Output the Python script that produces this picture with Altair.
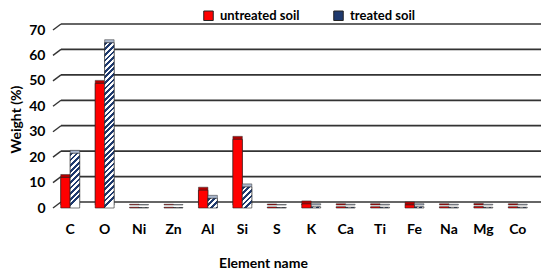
import altair as alt
import pandas as pd

elements = ["C", "O", "Ni", "Zn", "Al", "Si", "S", "K", "Ca", "Ti", "Fe", "Na", "Mg", "Co"]
untreated = [12.0, 49.0, 0.3, 0.3, 7.0, 27.0, 0.4, 1.6, 0.5, 0.5, 1.2, 0.5, 0.6, 0.5]
treated = [21.5, 65.0, 0.2, 0.2, 3.8, 8.3, 0.2, 0.5, 0.3, 0.3, 0.5, 0.3, 0.3, 0.3]
series = ["untreated soil", "treated soil"]
y_ticks = [0, 10, 20, 30, 40, 50, 60, 70]

W, H = 482, 178
YMAX = 70
FONT = "Lato"

rows = []
for e, u, t in zip(elements, untreated, treated):
    rows.append({"element": e, "series": series[0], "value": u})
    rows.append({"element": e, "series": series[1], "value": t})
df = pd.DataFrame(rows)
ticks_df = pd.DataFrame({"v": y_ticks})

yscale = alt.Scale(domain=[0, YMAX], nice=False)
xscale = alt.Scale(paddingInner=0.45, paddingOuter=0.225)
xoff_scale = alt.Scale(domain=series, paddingInner=0, paddingOuter=0)

y_axis = alt.Axis(values=y_ticks, title="Weight (%)", grid=False, domain=False, ticks=False,
                  labelFont=FONT, labelFontWeight="bold", labelFontSize=14,
                  labelColor="black", labelPadding=8,
                  titleFont=FONT, titleFontWeight="bold", titleFontSize=14,
                  titleColor="black", titleX=-30)

x_enc = alt.X("element:N", sort=elements, scale=xscale, title="Element name",
              axis=alt.Axis(title="Element name", labelFont=FONT, labelFontWeight="bold",
                            labelFontSize=14, labelColor="black", labelPadding=14,
                            domain=False, ticks=False, labelAngle=0,
                            titleFont=FONT, titleFontWeight="bold", titleFontSize=14,
                            titleColor="black", titleX=210, titleY=62,
                            titleBaseline="bottom"))
xo_enc = alt.XOffset("series:N", scale=xoff_scale)
y_enc = alt.Y("value:Q", scale=yscale, axis=y_axis, title="Weight (%)")

grid = alt.Chart(ticks_df).mark_rule(color="#333333", strokeWidth=1.7, yOffset=-6).encode(
    y=alt.Y("v:Q", scale=yscale, axis=y_axis, title="Weight (%)"),
    x=alt.value(8), x2=alt.value(W + 6))

diag = alt.Chart(ticks_df).mark_rule(color="#333333", strokeWidth=1.4, y2Offset=-6).encode(
    y=alt.Y("v:Q", scale=yscale, axis=y_axis, title="Weight (%)"), y2="v:Q",
    x=alt.value(0), x2=alt.value(8))

unt_df = df[df.series == series[0]]
tre_df = df[df.series == series[1]]

red_depth = alt.Chart(unt_df).mark_bar(fill="#b00000", stroke="#333", strokeWidth=0.5,
                                       xOffset=4, yOffset=-3).encode(
    x=x_enc, xOffset=xo_enc, y=y_enc)
red_front = alt.Chart(unt_df).mark_bar(stroke="#222", strokeWidth=0.6).encode(
    x=x_enc, xOffset=xo_enc, y=y_enc,
    color=alt.Color("series:N", scale=alt.Scale(domain=series, range=["#ff0000", "#1f3a6e"]),
                    legend=alt.Legend(title=None, orient="none", direction="horizontal",
                                      legendX=149, legendY=-21, symbolType="square",
                                      symbolSize=90, symbolStrokeColor="#222",
                                      symbolStrokeWidth=1, labelFont=FONT,
                                      labelFontWeight="bold", labelFontSize=13,
                                      labelColor="black", columnPadding=31, labelOffset=5)))
blue_depth = alt.Chart(tre_df).mark_bar(fill="#a9b6cc", stroke="#333", strokeWidth=0.5,
                                        xOffset=4, yOffset=-3).encode(
    x=x_enc, xOffset=xo_enc, y=y_enc)

step = W / (len(elements) - 0.45 + 2 * 0.225)
bw = step * 0.55 / 2
pitch = 5.6
layers = [grid, diag, red_depth, red_front, blue_depth]
for e, t in zip(elements, treated):
    h = max(t * H / YMAX, 0.5)
    D = h + bw * bw / h
    stops = []
    k = 0
    while k * pitch < D + pitch:
        a = min(k * pitch / D, 1.0)
        b = min((k + 0.5) * pitch / D, 1.0)
        c = min((k + 1) * pitch / D, 1.0)
        stops += [alt.GradientStop(offset=a, color="#1f3a6e"),
                  alt.GradientStop(offset=b, color="#1f3a6e"),
                  alt.GradientStop(offset=b, color="#ffffff"),
                  alt.GradientStop(offset=c, color="#ffffff")]
        k += 1
    grad = alt.LinearGradient(gradient="linear", stops=stops, x1=0, y1=0, x2=bw / h, y2=1)
    layer = alt.Chart(tre_df).transform_filter(alt.datum.element == e).mark_bar(
        fill=grad, stroke="#222", strokeWidth=0.6).encode(x=x_enc, xOffset=xo_enc, y=y_enc)
    layers.append(layer)

chart = alt.layer(*layers).properties(
    width=W, height=H,
    autosize=alt.AutoSizeParams(type="none"),
    padding={"left": 45, "top": 22, "right": 7, "bottom": 62},
).configure_view(stroke=None)

chart.save("out.html", embed_options={"renderer": "svg", "actions": False})
